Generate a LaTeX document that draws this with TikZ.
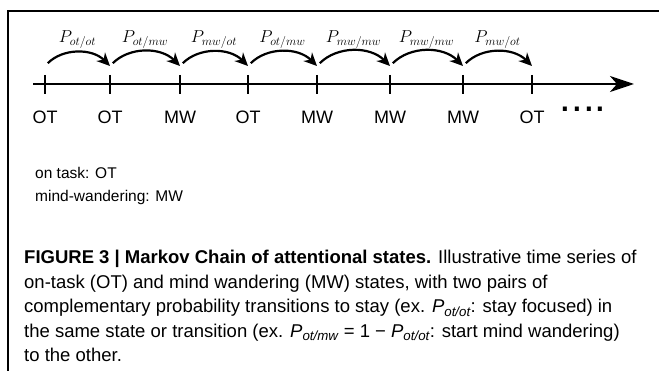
\documentclass[tikz,border=0pt]{standalone}
\usepackage{fontspec}
\setmainfont{Liberation Sans}
\usetikzlibrary{arrows.meta,calc}
\newcommand{\capP}[1]{\textit{P}\raisebox{-0.35ex}{\fontsize{13.3}{13.3}\selectfont\textit{#1}}}
\tikzset{
  frameline/.style={line width=2pt},
  axisline/.style={line width=2.4pt,-{Stealth[length=24pt,width=16pt,inset=7pt]}},
  tickline/.style={line width=2.4pt},
  trans/.style={line width=2.2pt,-{Stealth[length=13pt,width=12pt,inset=4pt]},bend left=45,shorten <=4pt},
  state/.style={inner sep=0pt,font=\fontsize{18}{18}\selectfont},
  plabel/.style={inner sep=0pt,font=\fontsize{18}{18}\selectfont},
}
\begin{document}
\begin{tikzpicture}[x=1pt,y=-1pt]
\useasboundingbox (0,0) rectangle (659,371);
\coordinate (fb) at (8,372);
\coordinate (fc) at (8,11);
\coordinate (fr) at (660,11);
\draw[frameline] (fb) -- (fc) -- (fr);
% axis
\coordinate (axs) at (33,84);
\coordinate (axe) at (634,84);
\draw[axisline] (axs) -- (axe);
% ticks, states, arc anchors
\foreach \i/\x/\s in {1/45/OT,2/110/OT,3/180/MW,4/248/OT,5/317/MW,6/390/MW,7/463/MW,8/532/OT}{
  \coordinate (t\i) at (\x,84);
  \draw[tickline] (t\i) ++(0,-9) -- ++(0,19);
  \node[state] (s\i) at (\x,117) {\s};
  \coordinate (a\i) at (\x,66);
}
% transitions
\foreach \i/\j/\p in {1/2/{ot/ot},2/3/{ot/mw},3/4/{mw/ot},4/5/{ot/mw},5/6/{mw/mw},6/7/{mw/mw},7/8/{mw/ot}}{
  \draw[trans] (a\i) to (a\j);
  \node[plabel] (p\i) at ($(a\i)!0.5!(a\j)+(0,-26)$) {$P_{\p}$};
}
\node[inner sep=0pt,font=\fontsize{42}{42}\selectfont] (dots) at (583,109) {....};
\node[anchor=base west,inner sep=0pt,font=\fontsize{15.5}{16}\selectfont] (leg1) at (35,179) {on task: OT};
\node[anchor=base west,inner sep=0pt,font=\fontsize{15.5}{16}\selectfont] (leg2) at (35,202) {mind-wandering: MW};
\node[anchor=base west,inner sep=0pt,align=left,font=\fontsize{18.5}{24.5}\selectfont] (caption) at (24,362) {%
\textbf{FIGURE 3 | Markov Chain of attentional states.} Illustrative time series of\\
on-task (OT) and mind wandering (MW) states, with two pairs of\\
complementary probability transitions to stay (ex. \capP{ot/ot}: stay focused) in\\
the same state or transition (ex. \capP{ot/mw} = 1 − \capP{ot/ot}: start mind wandering)\\
to the other.};
\end{tikzpicture}
\end{document}
